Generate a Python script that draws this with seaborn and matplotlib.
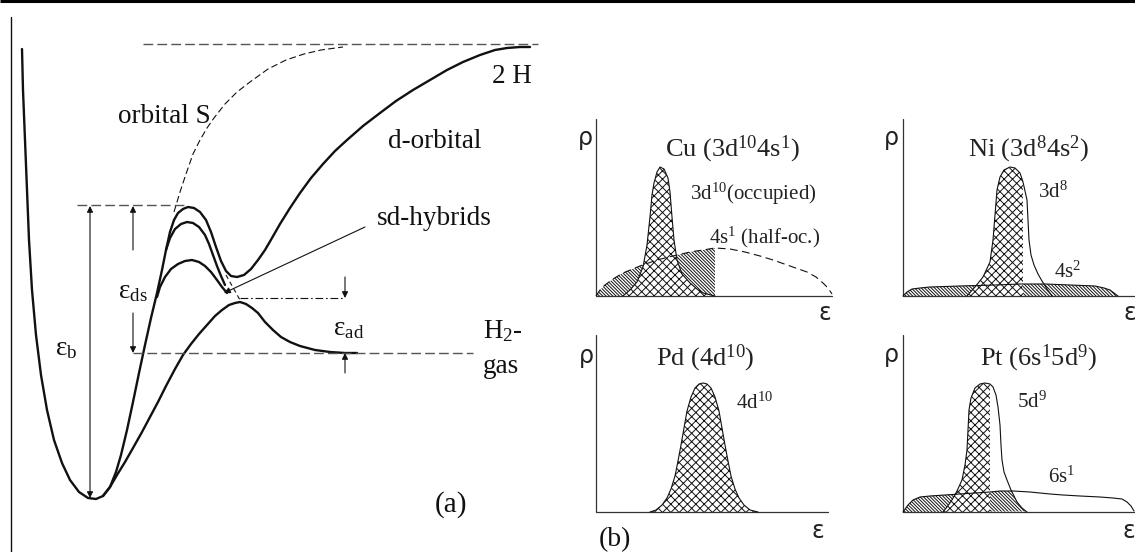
import numpy as np
import seaborn as sns
import matplotlib.pyplot as plt
from matplotlib.patches import Polygon

# ---- panel (a): potential energy curves (figure pixel coords, y down) ----
wall_x = [22, 23, 25, 27, 29, 32, 36, 41, 47, 54, 62, 70, 79, 88, 96, 103, 110, 116, 121, 127,
          133, 139, 145, 151, 157, 162, 166, 170, 174]
wall_y = [49, 90, 140, 190, 240, 290, 335, 375, 410, 440, 463, 480, 492, 498, 499, 496, 487, 472, 455, 430,
          402, 373, 345, 318, 293, 270, 250, 232, 220]

d_orb_x = [174, 178, 183, 188, 194, 200, 206, 211, 216, 221, 226, 231, 237, 244, 251, 258, 265, 272, 280,
           290, 300, 311, 323, 335, 347, 363, 380, 396, 413, 430, 447, 463, 480, 495, 507, 520, 530]
d_orb_y = [220, 213, 209, 207, 208, 212, 220, 232, 247, 261, 271, 276, 277, 275, 269, 260, 250, 238, 224,
           208, 193, 178, 164, 151, 140, 126, 113, 101, 90, 80, 70, 62, 55, 50, 48, 47, 47]

sd1_x = [166, 170, 175, 181, 187, 193, 199, 205, 209, 213, 217, 221, 225]
sd1_y = [250, 238, 229, 224, 222, 223, 227, 235, 244, 255, 266, 276, 285]

sd2_x = [157, 160, 165, 171, 178, 185, 192, 199, 205, 211, 217, 222, 227]
sd2_y = [297, 287, 277, 269, 264, 261, 260, 262, 266, 272, 280, 287, 293]

low_x = [103, 110, 117, 125, 133, 142, 150, 158, 166, 175, 183, 191, 199, 207, 215, 222, 229, 235, 240,
         246, 252, 258, 265, 273, 281, 290, 300, 315, 330, 345, 357]
low_y = [496, 487, 475, 462, 448, 432, 417, 402, 386, 369, 355, 344, 334, 325, 316, 310, 305, 303, 302,
         304, 308, 313, 322, 330, 337, 342, 346, 350, 352, 353, 353]

s_orb_x = [174, 180, 186, 193, 200, 207, 214, 225, 237, 250, 268, 286, 304, 321, 343]
s_orb_y = [212, 192, 174, 154, 140, 128, 118, 104, 92, 82, 69, 60, 54, 50, 47]

# ---- panel (b): densities of states ----
cu_3d_x = [623, 630, 637, 643, 647, 650, 652, 654, 657, 660, 664, 668, 670, 672, 674, 677, 682, 690, 697, 703, 715]
cu_3d_y = [296, 290, 282, 267, 245, 217, 195, 183, 172, 167, 169, 178, 192, 217, 240, 260, 274, 283, 289, 293, 296]
cu_4s_x = [596, 600, 605, 613, 623, 640, 657, 673, 690, 703, 715, 730, 745, 760, 773, 790, 807, 816, 823, 828, 832]
cu_4s_y = [296, 290, 285, 279, 273, 266, 260, 256, 252, 250, 248, 249, 252, 256, 260, 266, 272, 277, 283, 288, 294]

ni_3d_x = [967, 975, 983, 990, 993, 995, 997, 1000, 1004, 1010, 1015, 1020, 1023, 1027, 1028, 1029, 1031,
           1034, 1038, 1042, 1047, 1052]
ni_3d_y = [296, 287, 277, 262, 240, 215, 190, 177, 170, 167, 168, 173, 182, 200, 220, 240, 255,
           265, 274, 281, 289, 296]
ni_4s_x = [903, 907, 912, 920, 930, 960, 995, 1020, 1045, 1070, 1095, 1104, 1110, 1114, 1118]
ni_4s_y = [296, 292, 289, 288, 287, 286, 285, 284, 284, 285, 286, 288, 290, 293, 296]

pd_4d_x = [650, 656, 662, 667, 671, 675, 678, 681, 684, 687, 691, 695, 699, 703, 707, 711, 715, 719, 722,
           725, 728, 731, 735, 739, 744, 750, 758]
pd_4d_y = [512, 510, 505, 498, 489, 476, 461, 445, 428, 411, 397, 388, 384, 383, 384, 388, 397, 411, 428,
           445, 461, 476, 489, 498, 505, 510, 512]

pt_5d_x = [943, 947, 952, 957, 962, 965, 967, 968, 969, 971, 975, 980, 985, 990, 993, 996, 998, 1000,
           1001, 1002, 1004, 1007, 1011, 1017, 1022, 1027]
pt_5d_y = [512, 507, 500, 491, 480, 465, 450, 430, 410, 398, 388, 384, 383, 384, 387, 395, 407, 425,
           445, 460, 472, 480, 490, 502, 508, 512]
pt_6s_x = [903, 908, 913, 920, 930, 945, 960, 975, 990, 1000, 1013, 1030, 1050, 1063, 1080, 1100, 1113,
           1122, 1127, 1131, 1134]
pt_6s_y = [512, 505, 500, 497, 496, 495, 494, 493, 492, 491, 491, 492, 494, 495, 496, 497, 498,
           499, 502, 506, 511]

sns.set_style("white")
plt.rcParams['font.family'] = ['Liberation Serif', 'DejaVu Sans']
plt.rcParams['mathtext.fontset'] = 'custom'
plt.rcParams['mathtext.rm'] = 'Liberation Serif'
plt.rcParams['mathtext.it'] = 'Liberation Serif:italic'
plt.rcParams['hatch.linewidth'] = 0.7

fig = plt.figure(figsize=(11.35, 5.52), dpi=100)
ax = fig.add_axes([0, 0, 1, 1])
ax.set_xlim(0, 1135)
ax.set_ylim(552, 0)
ax.axis('off')

K = '#111111'
G = '#555555'

# frame lines
ax.plot([0, 1135], [1, 1], color='black', lw=2.2, solid_capstyle='butt')
ax.plot([11, 11], [17, 552], color=K, lw=1.0)

# --- (a) curves
for xs, ys in [(wall_x, wall_y), (d_orb_x, d_orb_y), (sd1_x, sd1_y), (sd2_x, sd2_y), (low_x, low_y)]:
    sns.lineplot(x=xs, y=ys, sort=False, estimator=None, ax=ax, color=K, lw=1.7)
sns.lineplot(x=s_orb_x, y=s_orb_y, sort=False, estimator=None, ax=ax, color=K, lw=0.8,
             linestyle=(0, (6, 3)))
ax.plot([226, 240], [275, 300], color=K, lw=0.8, linestyle=(0, (4, 3)))

# reference levels
ax.plot([143, 538], [44, 44], color=G, lw=1.0, linestyle=(0, (7, 3)))
ax.plot([77, 185], [205, 205], color=G, lw=1.0, linestyle=(0, (7, 3)))
ax.plot([133, 473], [353, 353], color=G, lw=1.0, linestyle=(0, (7, 3)))
ax.plot([240, 345], [298, 298], color=K, lw=0.8, linestyle=(0, (7, 2.5, 1.5, 2.5)))

arr = dict(arrowstyle='-|>', color=K, lw=0.8, mutation_scale=9, shrinkA=0, shrinkB=0)
ax.annotate('', xy=(90, 206), xytext=(90, 498),
            arrowprops=dict(arrowstyle='<|-|>', color=K, lw=0.8, mutation_scale=9, shrinkA=0, shrinkB=0))
ax.annotate('', xy=(133, 206), xytext=(133, 250), arrowprops=arr)
ax.annotate('', xy=(133, 353), xytext=(133, 313), arrowprops=arr)
ax.annotate('', xy=(345, 298), xytext=(345, 277), arrowprops=arr)
ax.annotate('', xy=(345, 353), xytext=(345, 373), arrowprops=arr)
ax.annotate('', xy=(224, 293), xytext=(365, 227), arrowprops=arr)

fs = 19.5
ax.text(164, 123, 'orbital S', fontsize=fs, ha='center', va='baseline', color=K)
ax.text(512, 83, '2 H', fontsize=fs, ha='center', va='baseline', color=K)
ax.text(435, 148, 'd-orbital', fontsize=fs, ha='center', va='baseline', color=K)
ax.text(434, 225, 'sd-hybrids', fontsize=fs, ha='center', va='baseline', color=K)
ax.text(483, 338, 'H$_{2}$-', fontsize=fs, ha='left', va='baseline', color=K)
ax.text(483, 373, 'gas', fontsize=fs, ha='left', va='baseline', color=K)
ax.text(55, 355, r'ε$_{\mathrm{b}}$', fontsize=fs, ha='left', va='baseline', color=K)
ax.text(118, 298, r'ε$_{\mathrm{ds}}$', fontsize=fs, ha='left', va='baseline', color=K)
ax.text(333, 335, r'ε$_{\mathrm{ad}}$', fontsize=fs, ha='left', va='baseline', color=K)
ax.text(451, 512, '(a)', fontsize=21, ha='center', va='baseline', color=K)
ax.text(615, 546, '(b)', fontsize=20, ha='center', va='baseline', color=K)

# --- (b) panels: axes lines
for x0, x1, y0, y1 in [(596, 832, 119, 296), (903, 1135, 119, 296), (596, 828, 335, 512), (903, 1135, 335, 512)]:
    ax.plot([x0, x0, x1], [y0, y1, y1], color='#333333', lw=0.9)

sans = 'DejaVu Sans'
for x, y in [(585, 138), (891, 138), (586, 356), (891, 355)]:
    ax.text(x, y, 'ρ', fontsize=17, family=sans, ha='center', va='center', color='#222222')
for x, y in [(825, 313), (1130, 313), (818, 531), (1129, 531)]:
    ax.text(x, y, 'ε', fontsize=17, family=sans, ha='center', va='center', color='#222222')

tfs = 19
ax.text(732, 156, 'Cu (3d$^{10}$4s$^{1}$)', fontsize=tfs, ha='center', va='baseline', color='#222222')
ax.text(1029, 156, 'Ni (3d$^{8}$4s$^{2}$)', fontsize=tfs, ha='center', va='baseline', color='#222222')
ax.text(705, 365, 'Pd (4d$^{10}$)', fontsize=tfs, ha='center', va='baseline', color='#222222')
ax.text(1038, 365, 'Pt (6s$^{1}$5d$^{9}$)', fontsize=tfs, ha='center', va='baseline', color='#222222')

lfs = 15
ax.text(690, 200, '3d$^{10}$(occupied)', fontsize=lfs, ha='left', va='baseline', color='#222222')
ax.text(709, 243, '4s$^{1}$ (half-oc.)', fontsize=lfs, ha='left', va='baseline', color='#222222')
ax.text(1038, 198, '3d$^{8}$', fontsize=lfs, ha='left', va='baseline', color='#222222')
ax.text(1054, 278, '4s$^{2}$', fontsize=lfs, ha='left', va='baseline', color='#222222')
ax.text(736, 409, '4d$^{10}$', fontsize=lfs, ha='left', va='baseline', color='#222222')
ax.text(1017, 408, '5d$^{9}$', fontsize=lfs, ha='left', va='baseline', color='#222222')
ax.text(1048, 483, '6s$^{1}$', fontsize=lfs, ha='left', va='baseline', color='#222222')

HS = '\\' * 10
HX = 'xxxx'

# Cu
x4 = np.array(cu_4s_x); y4 = np.array(cu_4s_y)
ax.fill_between(x4, y4, 296, where=x4 <= 715, facecolor='white', edgecolor=K, hatch=HS, lw=0)
x3 = np.array(cu_3d_x); y3 = np.array(cu_3d_y)
ax.fill_between(x3, y3, 296, facecolor='white', edgecolor=K, hatch=HX, lw=0)
sns.lineplot(x=cu_3d_x, y=cu_3d_y, sort=False, estimator=None, ax=ax, color=K, lw=0.8)
sns.lineplot(x=cu_4s_x, y=cu_4s_y, sort=False, estimator=None, ax=ax, color=K, lw=0.8,
             linestyle=(0, (7, 4)))

# Ni
x4 = np.array(ni_4s_x); y4 = np.array(ni_4s_y)
ax.fill_between(x4, y4, 296, facecolor='white', edgecolor=K, hatch=HS, lw=0)
x3 = np.array(ni_3d_x); y3 = np.array(ni_3d_y)
ax.fill_between(x3, y3, 296, where=x3 <= 1023, facecolor='white', edgecolor=K, hatch=HX, lw=0)
sns.lineplot(x=ni_4s_x, y=ni_4s_y, sort=False, estimator=None, ax=ax, color=K, lw=0.8)
sns.lineplot(x=ni_3d_x, y=ni_3d_y, sort=False, estimator=None, ax=ax, color=K, lw=0.8)

# Pd
x3 = np.array(pd_4d_x); y3 = np.array(pd_4d_y)
ax.fill_between(x3, y3, 512, facecolor='white', edgecolor=K, hatch=HX, lw=0)
sns.lineplot(x=pd_4d_x, y=pd_4d_y, sort=False, estimator=None, ax=ax, color=K, lw=0.8)

# Pt
x6 = np.array(pt_6s_x); y6 = np.array(pt_6s_y)
x5 = np.array(pt_5d_x); y5 = np.array(pt_5d_y)
ax.fill_between(x6, y6, 512, where=x6 <= 990, facecolor='white', edgecolor=K, hatch=HS, lw=0)
clip6 = Polygon(np.column_stack([x6, y6]), closed=True, transform=ax.transData)
right = ax.fill_between(x5, y5, 512, where=x5 >= 990, facecolor='white', edgecolor=K, hatch=HS, lw=0)
right.set_clip_path(clip6)
ax.fill_between(x5, y5, 512, where=x5 <= 990, facecolor='white', edgecolor=K, hatch=HX, lw=0)
sns.lineplot(x=pt_6s_x, y=pt_6s_y, sort=False, estimator=None, ax=ax, color=K, lw=0.8)
sns.lineplot(x=pt_5d_x, y=pt_5d_y, sort=False, estimator=None, ax=ax, color=K, lw=0.8)

fig.savefig('out.png', dpi=100)
